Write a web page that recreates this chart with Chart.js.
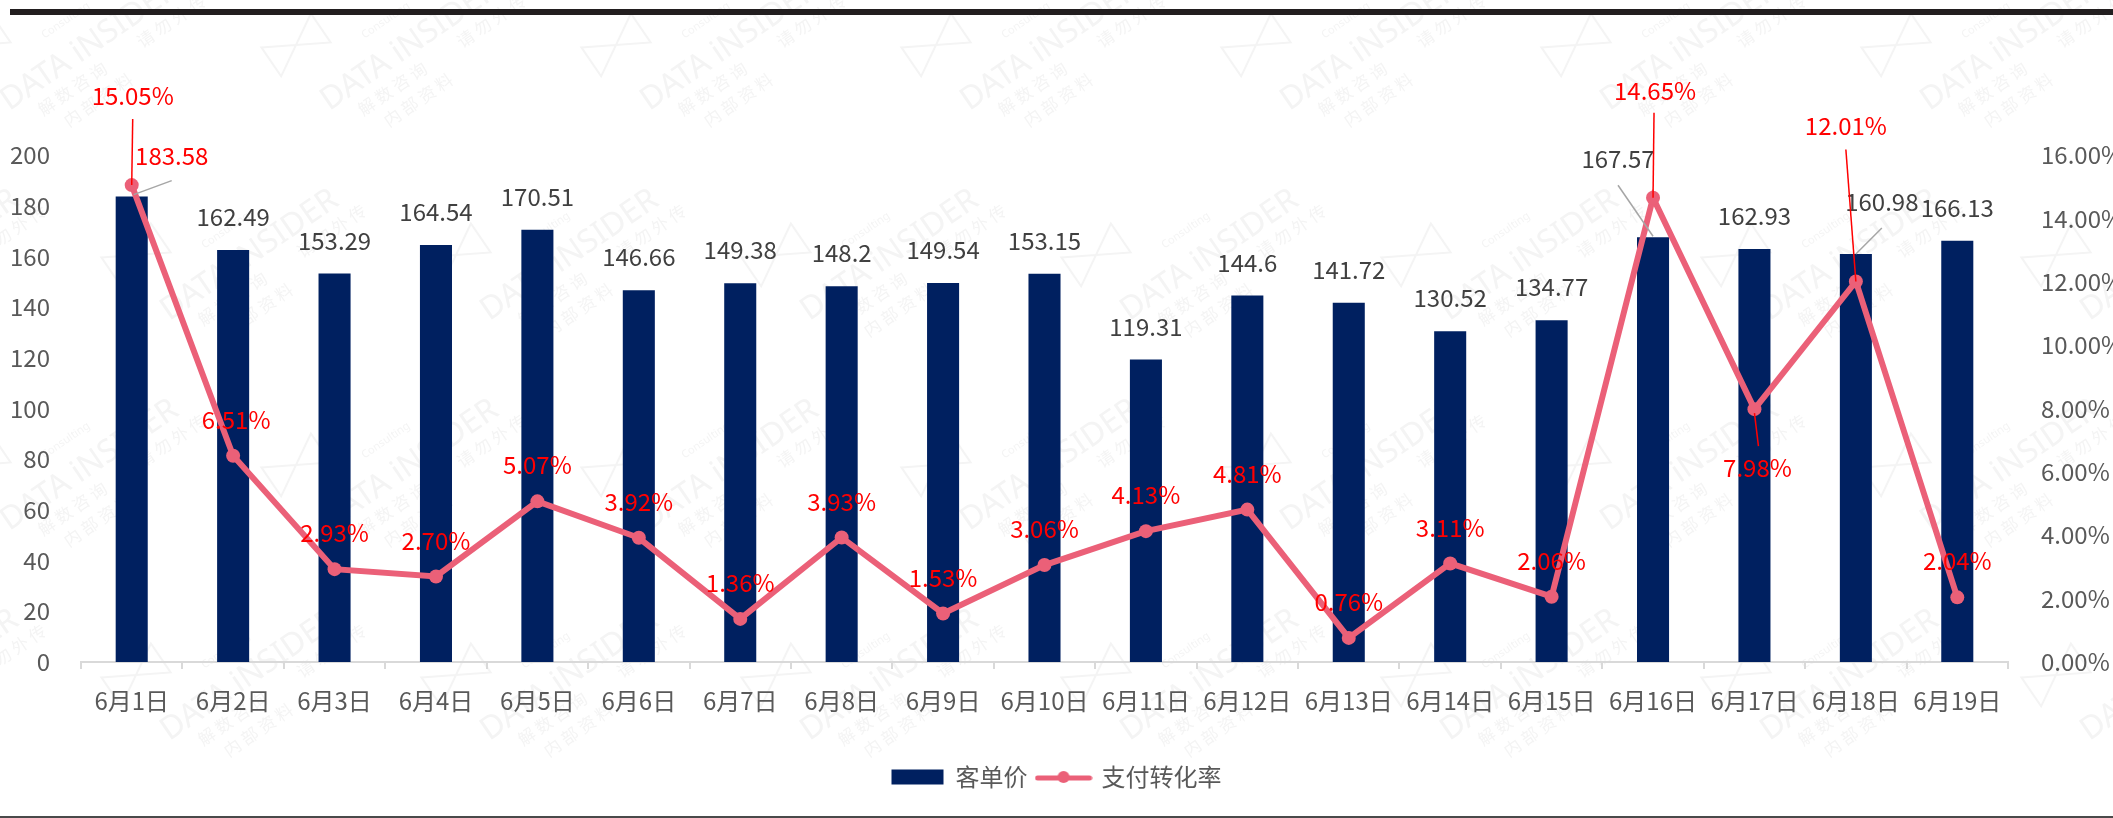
<!DOCTYPE html>
<html>
<head>
<meta charset="utf-8">
<script src="https://cdn.jsdelivr.net/npm/chart.js@4.4.1/dist/chart.umd.min.js"></script>
<style>
  body { margin: 0; background: #fff; }
  #wrap { position: relative; width: 2113px; height: 818px; }
</style>
</head>
<body>
<div id="wrap"><canvas id="grafica" width="2113" height="818"></canvas></div>
<script>
// datos
var fechas = ['6月1日', '6月2日', '6月3日', '6月4日', '6月5日', '6月6日', '6月7日', '6月8日', '6月9日', '6月10日',
  '6月11日', '6月12日', '6月13日', '6月14日', '6月15日', '6月16日', '6月17日', '6月18日', '6月19日'];
var kedanjia = [183.58, 162.49, 153.29, 164.54, 170.51, 146.66, 149.38, 148.2, 149.54, 153.15,
  119.31, 144.6, 141.72, 130.52, 134.77, 167.57, 162.93, 160.98, 166.13];
var zhuanhualv = [15.05, 6.51, 2.93, 2.70, 5.07, 3.92, 1.36, 3.93, 1.53, 3.06,
  4.13, 4.81, 0.76, 3.11, 2.06, 14.65, 7.98, 12.01, 2.04];
var ticksIzq = [0, 20, 40, 60, 80, 100, 120, 140, 160, 180, 200];
var ticksDer = [0, 2, 4, 6, 8, 10, 12, 14, 16];

var azul = '#002060';
var rosa = '#eb6078';
var fuente = '"Noto Sans CJK SC", "Noto Sans", sans-serif';

// etiquetas movidas a mano (como en el excel original)
var desplazaBarra = {
  0: { dx: 40, dy: -41, guia: [2, -2, 40, -16], color: '#ff0000' },
  15: { dx: -35, dy: -78, guia: [0, -1, -35, -52] },
  17: { dx: 26, dy: -52, guia: [0, 0, 26, -26] }
};
var desplazaLinea = {
  0: { dx: 1, dy: -89, guia: [1, -66, 0, 0] },
  1: { dx: 3, dy: -36 },
  15: { dx: 2, dy: -107, guia: [1, -85, 0, 0] },
  16: { dx: 3, dy: 59, guia: [0, 4, 4, 37] },
  17: { dx: -10, dy: -156, guia: [-10, -132, 0, 0] }
};

function guia(ctx, x, y, g, color) {
  ctx.save();
  ctx.strokeStyle = color;
  ctx.lineWidth = 1.5;
  ctx.beginPath();
  ctx.moveTo(x + g[0], y + g[1]);
  ctx.lineTo(x + g[2], y + g[3]);
  ctx.stroke();
  ctx.restore();
}

// marca de agua de fondo (muy tenue)
function marcaAgua(ctx) {
  ctx.save();
  ctx.fillStyle = '#f4f4f4';
  ctx.strokeStyle = '#f4f4f4';
  ctx.lineWidth = 2;
  for (var fila = -1; fila < 5; fila++) {
    for (var col = -1; col < 8; col++) {
      var ox = col * 320 + (fila % 2 ? 160 : 0);
      var oy = fila * 210 + 80;
      ctx.save();
      ctx.translate(ox, oy);
      ctx.rotate(-0.6);
      ctx.beginPath();
      ctx.moveTo(-30, -60); ctx.lineTo(30, -25); ctx.lineTo(30, -60); ctx.lineTo(-30, -25); ctx.closePath();
      ctx.stroke();
      ctx.font = '11px "Noto Sans"';
      ctx.fillText('Consulting', 60, -12);
      ctx.font = '32px "Noto Sans"';
      ctx.fillText('DATA iNSIDER', -10, 22);
      ctx.font = '17px "Noto Sans CJK SC"';
      ctx.fillText('解 数 咨 询', 15, 48);
      ctx.fillText('内 部 资 料', 30, 72);
      ctx.fillText('请 勿 外 传', 135, 48);
      ctx.restore();
    }
  }
  ctx.restore();
}

const marco = {
  id: 'marco',
  beforeDraw(chart) {
    const ctx = chart.ctx;
    ctx.save();
    ctx.fillStyle = '#fff';
    ctx.fillRect(0, 0, chart.width, chart.height);
    marcaAgua(ctx);
    ctx.fillStyle = '#221e1f';
    ctx.fillRect(10, 9, chart.width - 10, 6);
    ctx.fillStyle = '#4a4a4a';
    ctx.fillRect(0, 816, chart.width, 2);
    ctx.restore();
  }
};

const etiquetas = {
  id: 'etiquetas',
  afterDatasetsDraw(chart) {
    const ctx = chart.ctx;
    ctx.save();
    ctx.font = '24px ' + fuente;
    ctx.textAlign = 'center';
    ctx.textBaseline = 'middle';
    chart.getDatasetMeta(0).data.forEach((bar, i) => {
      const d = desplazaBarra[i] || { dx: 0, dy: -33 };
      if (d.guia) guia(ctx, bar.x, bar.y, d.guia, '#a6a6a6');
      ctx.fillStyle = d.color || '#404040';
      ctx.fillText(String(kedanjia[i]), bar.x + d.dx, bar.y + d.dy);
    });
    chart.getDatasetMeta(1).data.forEach((p, i) => {
      const d = desplazaLinea[i] || { dx: 0, dy: -36 };
      if (d.guia) guia(ctx, p.x, p.y, d.guia, '#ff0000');
      ctx.fillStyle = '#ff0000';
      ctx.fillText(zhuanhualv[i].toFixed(2) + '%', p.x + d.dx, p.y + d.dy);
    });
    ctx.restore();
  }
};

// icono de la leyenda para la linea
var iconoLinea = document.createElement('canvas');
iconoLinea.width = 58;
iconoLinea.height = 16;
var ic = iconoLinea.getContext('2d');
ic.strokeStyle = rosa;
ic.lineWidth = 5;
ic.lineCap = 'round';
ic.beginPath();
ic.moveTo(3, 9);
ic.lineTo(55, 9);
ic.stroke();
ic.fillStyle = rosa;
ic.beginPath();
ic.arc(29, 8, 6, 0, Math.PI * 2);
ic.fill();

Chart.defaults.font.family = fuente;
Chart.defaults.color = '#595959';

new Chart(document.getElementById('grafica'), {
  type: 'bar',
  data: {
    labels: fechas,
    datasets: [
      {
        label: '客单价',
        data: kedanjia,
        backgroundColor: azul,
        yAxisID: 'y',
        barPercentage: 0.316,
        categoryPercentage: 1,
        order: 1
      },
      {
        type: 'line',
        label: '支付转化率',
        data: zhuanhualv,
        borderColor: rosa,
        backgroundColor: rosa,
        borderWidth: 6,
        pointRadius: 7,
        pointBorderWidth: 0,
        pointBackgroundColor: rosa,
        yAxisID: 'y1',
        order: 0
      }
    ]
  },
  options: {
    responsive: false,
    animation: false,
    layout: { padding: { top: 155, left: 0, right: 0, bottom: 19 } },
    plugins: {
      tooltip: { enabled: false },
      legend: {
        position: 'bottom',
        labels: {
          usePointStyle: true,
          pointStyleWidth: 52,
          boxHeight: 15,
          padding: 10,
          color: '#595959',
          font: { size: 24 },
          generateLabels: function (chart) {
            var items = Chart.defaults.plugins.legend.labels.generateLabels(chart);
            items.sort((a, b) => a.datasetIndex - b.datasetIndex);
            items.forEach(it => {
              it.pointStyle = it.datasetIndex === 0 ? 'rect' : iconoLinea;
              it.lineWidth = 0;
            });
            return items;
          }
        }
      }
    },
    scales: {
      x: {
        grid: { drawOnChartArea: false, drawTicks: true, tickLength: 7, color: '#d9d9d9', lineWidth: 2, offset: true },
        border: { color: '#d9d9d9', width: 2 },
        ticks: { color: '#595959', font: { size: 24 }, padding: 17, maxRotation: 0, autoSkip: false },
        afterFit: s => { s.height = 93; }
      },
      y: {
        position: 'left',
        min: 0,
        max: 200,
        grid: { display: false },
        border: { display: false },
        ticks: { color: '#595959', font: { size: 24 }, padding: 23 },
        afterBuildTicks: s => { s.ticks = ticksIzq.map(v => ({ value: v })); },
        afterFit: s => { s.width = 81; }
      },
      y1: {
        position: 'right',
        min: 0,
        max: 16,
        grid: { display: false },
        border: { display: false },
        ticks: {
          color: '#595959',
          font: { size: 24 },
          padding: 25,
          callback: v => v.toFixed(2) + '%'
        },
        afterBuildTicks: s => { s.ticks = ticksDer.map(v => ({ value: v })); },
        afterFit: s => { s.width = 105; }
      }
    }
  },
  plugins: [marco, etiquetas]
});
</script>
</body>
</html>
